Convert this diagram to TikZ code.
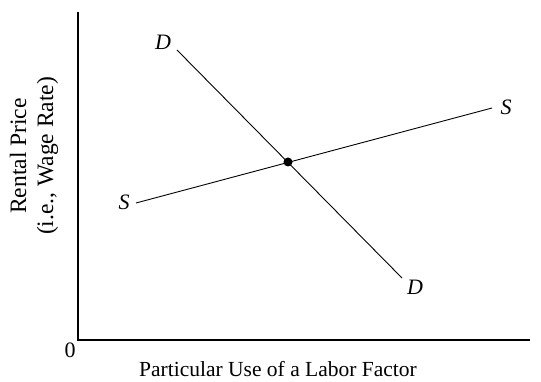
\documentclass[tikz,border=0pt]{standalone}
\usepackage{fontspec}
\setmainfont{Liberation Serif}
\usetikzlibrary{positioning}

\begin{document}
\begin{tikzpicture}[
  x=1pt, y=-1pt,
  axisline/.style={line width=1.4pt},
  curveline/.style={line width=0.9pt},
  curvelabel/.style={font=\fontsize{22}{22}\selectfont\itshape, inner sep=1pt},
  axislabel/.style={font=\fontsize{21.5}{24}\selectfont, align=center},
]
\useasboundingbox (0,0) rectangle (541,382);
% axes
\coordinate (origin) at (78,340);
\coordinate (ytop)   at (78,12);
\coordinate (xend)   at (530,340);
\draw[axisline] (ytop) -- (origin) -- (xend);
\node[font=\fontsize{22}{22}\selectfont, inner sep=0pt] (zero) at (70,350) {0};
\node[axislabel, font=\fontsize{23.5}{27}\selectfont, rotate=90] (ylab) at (34,156) {Rental Price\\(i.e., Wage Rate)};
\node[axislabel] (xlab) at (278,369) {Particular Use of a Labor Factor};

% demand
\coordinate (dtop) at (177,50);
\coordinate (dbot) at (402,278);
\draw[curveline] (dtop) -- (dbot);
\node[curvelabel] (Dup)  at (163,42)  {D};
\node[curvelabel] (Dlow) at (415,287) {D};

% supply
\coordinate (sleft)  at (136,203);
\coordinate (sright) at (492,108);
\draw[curveline] (sleft) -- (sright);
\node[curvelabel] (Sleft)  at (124,202) {S};
\node[curvelabel] (Sright) at (506,107) {S};

% equilibrium
\node[circle, fill, inner sep=0pt, minimum size=9pt] (eq) at (288,162) {};
\end{tikzpicture}
\end{document}
